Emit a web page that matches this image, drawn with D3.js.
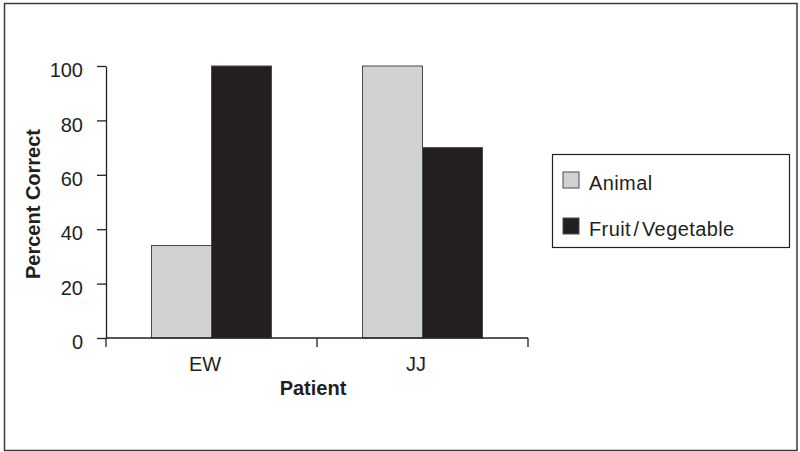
<!DOCTYPE html>
<html><head><meta charset="utf-8">
<script src="https://cdn.jsdelivr.net/npm/d3@7"></script>
<style>body{margin:0;background:#fff}svg{display:block}text{font-family:"Liberation Sans",Arial,sans-serif;fill:#231f20}</style>
</head><body>
<svg id="c" width="800" height="452"></svg>
<script>
const patients = ["EW", "JJ"];
const seriesNames = ["Animal", "Fruit/Vegetable"];
const animalValues = [34, 100];
const fruitVegValues = [100, 70];
const yTicks = [0, 20, 40, 60, 80, 100];
const colors = ["#d1d2d4", "#231f20"];

const svg = d3.select("#c");
svg.append("rect").attr("x", 4.5).attr("y", 3.5).attr("width", 792.5).attr("height", 447)
  .attr("fill", "#fff").attr("stroke", "#3a3a3a").attr("stroke-width", 1.5);

const x0 = d3.scaleBand().domain(patients).range([106, 528]).paddingInner(0).paddingOuter(0);
const x1 = d3.scaleBand().domain(seriesNames).range([0, 120]);
const y = d3.scaleLinear().domain([0, 100]).range([338, 66]);

const data = patients.map((p, i) => ({p, vals: [animalValues[i], fruitVegValues[i]]}));
const groupOffset = (x0.bandwidth() - 120) / 2;

const g = svg.append("g");
data.forEach(d => {
  d.vals.forEach((v, j) => {
    g.append("rect")
      .attr("x", x0(d.p) + groupOffset + x1(seriesNames[j]))
      .attr("y", y(v))
      .attr("width", x1.bandwidth())
      .attr("height", y(0) - y(v))
      .attr("fill", colors[j])
      .attr("stroke", "#4a4a4a").attr("stroke-width", 1);
  });
});

// y axis
const yAxis = d3.axisLeft(y).tickValues(yTicks).tickSize(9).tickPadding(14).tickSizeOuter(0);
const ya = svg.append("g").attr("transform", "translate(106,0)").call(yAxis);
ya.select(".domain").attr("stroke", "#231f20").attr("stroke-width", 1.3);
ya.selectAll(".tick line").attr("stroke", "#231f20").attr("stroke-width", 1.3);
ya.selectAll(".tick text").attr("font-size", 20).attr("fill", "#231f20").attr("dy", "0.53em");

// x axis
const xa = svg.append("g").attr("transform", "translate(0,338)");
xa.append("line").attr("x1", x0.range()[0]).attr("x2", x0.range()[1]).attr("y1", 0).attr("y2", 0)
  .attr("stroke", "#231f20").attr("stroke-width", 1.3);
const tickPos = patients.map(p => x0(p)).concat([x0.range()[1]]);
xa.selectAll("line.tk").data(tickPos).join("line").attr("class", "tk")
  .attr("x1", d => d).attr("x2", d => d).attr("y1", 0).attr("y2", 9)
  .attr("stroke", "#231f20").attr("stroke-width", 1.3);
xa.selectAll("text.lab").data(patients).join("text").attr("class", "lab")
  .attr("x", d => x0(d) + x0.bandwidth() / 2 - 6.5).attr("y", 33)
  .attr("text-anchor", "middle").attr("font-size", 20).text(d => d);

svg.append("text").attr("x", 313).attr("y", 395).attr("text-anchor", "middle")
  .attr("font-size", 20).attr("font-weight", "bold").text("Patient");
svg.append("text").attr("transform", "translate(40,204) rotate(-90)").attr("text-anchor", "middle")
  .attr("font-size", 20).attr("font-weight", "bold").text("Percent Correct");

// legend
const lg = svg.append("g");
lg.append("rect").attr("x", 552.5).attr("y", 154.5).attr("width", 237).attr("height", 93)
  .attr("fill", "#fff").attr("stroke", "#231f20").attr("stroke-width", 1.2);
seriesNames.forEach((s, i) => {
  const yy = 172 + i * 46;
  lg.append("rect").attr("x", 563).attr("y", yy).attr("width", 16).attr("height", 16)
    .attr("fill", colors[i]).attr("stroke", "#4a4a4a").attr("stroke-width", 1);
  const t = lg.append("text").attr("x", 589).attr("y", yy + 18).attr("font-size", 20)
    .attr("letter-spacing", 0.4);
  const parts = s.split("/");
  if (parts.length === 2) {
    t.append("tspan").text(parts[0]);
    t.append("tspan").attr("dx", 2.5).text("/");
    t.append("tspan").attr("dx", 2.5).text(parts[1]);
  } else {
    t.text(s);
  }
});
</script>
</body></html>
